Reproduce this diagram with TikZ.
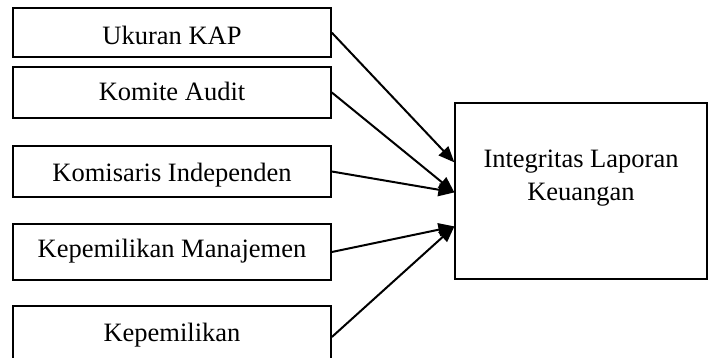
\documentclass[tikz,border=0pt]{standalone}
\usepackage{fontspec}
\setmainfont{Liberation Serif}
\usetikzlibrary{arrows.meta,calc}
\begin{document}
\begin{tikzpicture}[x=1pt,y=-1pt,
  txt/.style={font=\fontsize{26.5}{32.3}\selectfont},
  box/.style={txt, draw, line width=1.7pt, minimum width=318pt, inner sep=0pt, text depth=0pt},
  arr/.style={line width=2pt, -{Triangle[length=16pt,width=13pt]}}]
\useasboundingbox (0,0) rectangle (713,358);
\clip (0,0) rectangle (713,358);
\node[box, minimum height=48.7pt, text height=24pt] (b1) at (172,32.7) {Ukuran KAP};
\node[box, minimum height=51pt, text height=17pt] (b2) at (172,92.5) {Komite Audit};
\node[box, minimum height=51pt, text height=20pt] (b3) at (172,171.5) {Komisaris Independen};
\node[box, minimum height=56pt, text height=12pt] (b4) at (172,252) {Kepemilikan Manajemen};
\node[box, minimum height=62pt, text height=9pt] (b5) at (172,337) {Kepemilikan};
\node[draw, line width=1.2pt, minimum width=252pt, minimum height=176pt, inner sep=0pt] (r) at (581,191) {};
\node[txt, align=center, inner sep=0pt] (rt) at (581,178) {Integritas Laporan\\Keuangan};
\coordinate (r1) at ($(r.north west)+(0,60)$);
\coordinate (r2) at ($(r.north west)+(0,90)$);
\coordinate (r4) at ($(r.north west)+(0,124)$);
\draw[arr] (b1.east) -- (r1);
\draw[arr] (b2.east) -- (r2);
\draw[arr] (b3.east) -- (r2);
\draw[arr] (b4.east) -- (r4);
\draw[arr] (b5.east) -- (r4);
\end{tikzpicture}
\end{document}
